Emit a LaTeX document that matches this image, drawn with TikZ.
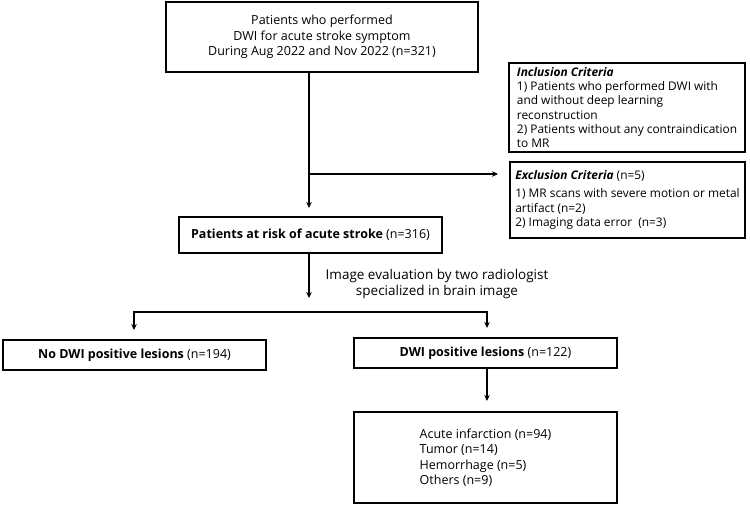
\documentclass[tikz,border=0pt]{standalone}
\usepackage{fontspec}
\setmainfont{Open Sans}
\usetikzlibrary{arrows.meta}

\begin{document}
\begin{tikzpicture}[x=1pt,y=-1pt]
\tikzstyle{every node}=[font=\fontsize{12.5}{15.5}\selectfont]
\tikzstyle{box}=[draw, line width=1.3pt, rectangle, inner sep=3pt]
\tikzstyle{critbox}=[box, align=left, inner sep=2pt, font=\fontsize{11.9}{14.2}\selectfont]
\tikzstyle{arr}=[line width=1.2pt, -{Stealth[length=6pt,width=5.5pt]}]
\useasboundingbox (0,0) rectangle (750,506);
\node (pat) [box, minimum width=312, minimum height=70, align=center] at (322,37)
  {Patients who performed\\DWI for acute stroke symptom\\During Aug 2022 and Nov 2022 (n=321)};
\node (incl) [critbox, minimum width=236, minimum height=89] at (627,107.5)
  {\textbf{\textit{Inclusion Criteria}}\\1) Patients who performed DWI with\\and without deep learning\\reconstruction\\2) Patients without any contraindication\\to MR};
\node (excl) [critbox, minimum width=235, minimum height=76] at (627.5,200)
  {\textbf{\textit{Exclusion Criteria}} (n=5)\\[4pt]1) MR scans with severe motion or metal\\artifact (n=2)\\2) Imaging data error~~(n=3)};
\node (risk) [box, minimum width=263, minimum height=36] at (310.5,235)
  {\textbf{Patients at risk of acute stroke} (n=316)};
\node (eval) [align=center, font=\fontsize{13.5}{15.5}\selectfont] at (437,284)
  {Image evaluation by two radiologist\\specialized in brain image};
\node (nodwi) [box, minimum width=263, minimum height=30] at (134.5,355)
  {\textbf{No DWI positive lesions} (n=194)};
\node (dwi) [box, minimum width=263, minimum height=30] at (485.5,353)
  {\textbf{DWI positive lesions} (n=122)};
\node (types) [box, minimum width=263, minimum height=91, align=left] at (485.5,457.5)
  {Acute infarction (n=94)\\Tumor (n=14)\\Hemorrhage (n=5)\\Others (n=9)};
\coordinate (top) at (309,72);
\coordinate (fork) at (309,174);
\coordinate (riskin) at (309,208);
\coordinate (exclin) at (498,174);
\coordinate (split) at (310.5,312);
\coordinate (splitend) at (309,298);
\coordinate (nodwiin) at (134,330);
\coordinate (dwiin) at (487,328);
\coordinate (typesin) at (487,401);
% main line and exclusion branch
\draw [arr] (top) -- (riskin);
\draw [arr] (fork) -- (exclin);
\draw [arr] (risk.south -| splitend) -- (splitend);
% split into the two groups
\draw [arr] (split) -- (split -| nodwiin) -- (nodwiin);
\draw [arr] (split) -- (split -| dwiin) -- (dwiin);
\draw [arr] (dwi.south -| typesin) -- (typesin);
\end{tikzpicture}
\end{document}
